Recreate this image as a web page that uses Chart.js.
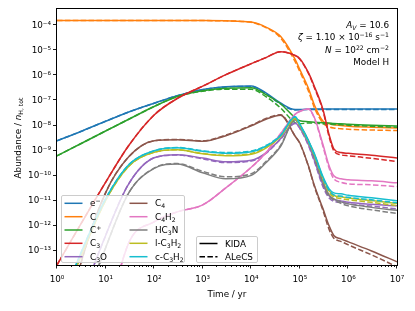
<!DOCTYPE html>
<html><head><meta charset="utf-8">
<script src="https://cdn.jsdelivr.net/npm/chart.js@4.4.1/dist/chart.umd.min.js"></script>
<style>
html,body{margin:0;padding:0;background:#fff;}
#wrap{position:relative;width:415px;height:311px;overflow:hidden;font-family:"DejaVu Sans",sans-serif;font-size:8.8px;color:#000;}
#c{position:absolute;left:0;top:0;}
.t{position:absolute;white-space:nowrap;line-height:12px;height:12px;}
.t sub{font-size:70%;vertical-align:-0.3em;line-height:0;}
.t sup{font-size:70%;vertical-align:0.55em;line-height:0;}
.leg{position:absolute;background:rgba(255,255,255,0.8);border:1px solid #cccccc;border-radius:2px;box-sizing:border-box;}
#sw{position:absolute;left:0;top:0;}
</style></head>
<body>
<div id="wrap">
<canvas id="c" width="415" height="311"></canvas>
<div class="leg" style="left:61px;top:195px;width:124px;height:68px;"></div>
<div class="leg" style="left:196px;top:236px;width:62px;height:27px;"></div>
<svg id="sw" width="415" height="311"></svg>
<div id="txt"></div>
</div>
<script>
// ---- data (log10 of abundance / n_H,tot) ----
const times = [1,3,10,30,100,300,1e3,3e3,1e4,2e4,4e4,8e4,1e5,1.5e5,2e5,3e5,4e5,5e5,7e5,1e6,3e6,1e7];

const eKida    = [-8.61,-8.25,-7.83,-7.46,-7.11,-6.81,-6.56,-6.45,-6.42,-6.70,-7.10,-7.36,-7.36,-7.35,-7.34,-7.34,-7.34,-7.34,-7.34,-7.34,-7.34,-7.34];
const eAlecs   = [-8.61,-8.25,-7.83,-7.46,-7.11,-6.81,-6.57,-6.46,-6.44,-6.73,-7.14,-7.38,-7.37,-7.36,-7.36,-7.36,-7.36,-7.36,-7.36,-7.36,-7.36,-7.36];
const cKida    = [-3.81,-3.81,-3.81,-3.81,-3.81,-3.81,-3.81,-3.82,-3.87,-4.07,-4.44,-5.36,-5.77,-6.51,-7.19,-7.83,-7.93,-7.97,-8.00,-8.03,-8.07,-8.10];
const cAlecs   = [-3.81,-3.81,-3.81,-3.81,-3.81,-3.81,-3.81,-3.82,-3.88,-4.09,-4.50,-5.45,-5.85,-6.62,-7.30,-7.90,-8.05,-8.10,-8.13,-8.15,-8.18,-8.20];
const cpKida   = [-9.21,-8.74,-8.22,-7.75,-7.24,-6.84,-6.61,-6.51,-6.49,-6.77,-7.13,-7.69,-7.81,-7.85,-7.87,-7.89,-7.90,-7.92,-7.93,-7.95,-7.99,-8.02];
const cpAlecs  = [-9.21,-8.74,-8.22,-7.75,-7.24,-6.84,-6.63,-6.55,-6.55,-6.85,-7.30,-7.89,-7.93,-7.90,-7.91,-7.93,-7.95,-7.96,-7.97,-7.99,-8.03,-8.07];
const c3Kida   = [-13.57,-11.98,-10.27,-8.80,-7.58,-6.92,-6.43,-5.97,-5.53,-5.29,-5.05,-5.20,-5.33,-5.89,-6.45,-7.37,-8.37,-8.93,-9.08,-9.11,-9.19,-9.30];
const c3Alecs  = [-13.57,-11.98,-10.27,-8.80,-7.58,-6.92,-6.43,-5.97,-5.53,-5.29,-5.05,-5.21,-5.35,-5.92,-6.50,-7.42,-8.45,-9.01,-9.17,-9.21,-9.31,-9.44];
const c3oKida  = [-19.0,-15.2,-12.40,-10.33,-9.29,-9.17,-9.30,-9.45,-9.39,-9.09,-8.53,-7.90,-8.10,-8.75,-9.40,-10.37,-10.81,-10.95,-11.01,-11.07,-11.15,-11.21];
const c3oAlecs = [-19.0,-15.2,-12.40,-10.33,-9.29,-9.18,-9.33,-9.48,-9.42,-9.11,-8.55,-7.92,-8.12,-8.80,-9.45,-10.45,-10.90,-11.03,-11.07,-11.13,-11.22,-11.33];
const c4Kida   = [-17.5,-13.6,-10.69,-9.25,-8.61,-8.57,-8.63,-8.41,-8.01,-7.75,-7.59,-8.43,-8.70,-9.61,-10.41,-11.33,-12.01,-12.39,-12.53,-12.65,-13.01,-13.44];
const c4Alecs  = [-17.5,-13.6,-10.69,-9.25,-8.61,-8.56,-8.61,-8.38,-7.99,-7.72,-7.57,-8.43,-8.72,-9.63,-10.45,-11.40,-12.15,-12.50,-12.63,-12.77,-13.17,-13.64];
const c4h2Kida = [-26.0,-21.0,-16.1,-12.69,-11.85,-11.45,-11.17,-10.49,-9.67,-9.09,-8.33,-7.55,-7.43,-7.33,-7.69,-8.77,-9.61,-10.01,-10.13,-10.17,-10.21,-10.29];
const c4h2Alecs= [-26.0,-21.0,-16.1,-12.69,-11.85,-11.45,-11.17,-10.49,-9.67,-9.09,-8.33,-7.55,-7.44,-7.35,-7.72,-8.85,-9.70,-10.13,-10.27,-10.33,-10.37,-10.44];
const hc3nKida = [-19.0,-15.7,-12.89,-10.69,-9.71,-9.54,-9.89,-10.13,-9.99,-9.49,-8.84,-7.77,-8.00,-8.60,-9.25,-10.25,-10.77,-10.93,-11.05,-11.13,-11.27,-11.39];
const hc3nAlecs= [-19.0,-15.7,-12.89,-10.69,-9.70,-9.52,-9.83,-10.05,-9.93,-9.44,-8.80,-7.76,-8.02,-8.63,-9.30,-10.32,-10.84,-10.97,-11.11,-11.21,-11.37,-11.51];
const lc3h2Kida= [-15.6,-13.3,-11.00,-9.63,-9.07,-8.97,-9.13,-9.21,-9.15,-8.90,-8.45,-7.72,-7.99,-8.63,-9.17,-10.10,-10.60,-10.79,-10.85,-10.90,-11.00,-11.12];
const lc3h2Alecs=[-15.6,-13.3,-11.00,-9.63,-9.07,-8.97,-9.12,-9.19,-9.12,-8.87,-8.43,-7.71,-8.01,-8.67,-9.22,-10.17,-10.67,-10.85,-10.92,-10.97,-11.07,-11.20];
const cc3h2Kida= [-15.5,-13.16,-10.93,-9.57,-9.01,-8.89,-9.03,-9.11,-9.05,-8.83,-8.41,-7.66,-7.95,-8.60,-9.13,-10.05,-10.53,-10.69,-10.73,-10.79,-10.89,-11.01];
const cc3h2Alecs=[-15.5,-13.16,-10.93,-9.57,-9.01,-8.88,-9.01,-9.08,-9.02,-8.80,-8.39,-7.65,-7.97,-8.64,-9.18,-10.12,-10.60,-10.77,-10.82,-10.87,-10.97,-11.09];

const speciesLabels = ['e<sup>−</sup>','C','C<sup>+</sup>','C<sub>3</sub>','C<sub>3</sub>O','C<sub>4</sub>','C<sub>4</sub>H<sub>2</sub>','HC<sub>3</sub>N','l-C<sub>3</sub>H<sub>2</sub>','c-C<sub>3</sub>H<sub>2</sub>'];
const speciesColors = ['#1f77b4','#ff7f0e','#2ca02c','#d62728','#9467bd','#8c564b','#e377c2','#7f7f7f','#bcbd22','#17becf'];
const kidaSeries  = [eKida,cKida,cpKida,c3Kida,c3oKida,c4Kida,c4h2Kida,hc3nKida,lc3h2Kida,cc3h2Kida];
const alecsSeries = [eAlecs,cAlecs,cpAlecs,c3Alecs,c3oAlecs,c4Alecs,c4h2Alecs,hc3nAlecs,lc3h2Alecs,cc3h2Alecs];
const networkLabels = ['KIDA','ALeCS'];

const xTickExps = [0,1,2,3,4,5,6,7];
const yTickExps = [-13,-12,-11,-10,-9,-8,-7,-6,-5,-4];
const yMin = 2.68e-14, yMax = 4.5e-4;

// ---- build datasets ----
const DASH = [5.5, 2.4];
const datasets = [];
let k = 0;
kidaSeries.forEach((ser, i) => {
  [[ser, []], [alecsSeries[i], DASH]].forEach(([vals, dash]) => {
    datasets.push({
      data: times.map((t, j) => ({x: t, y: Math.pow(10, vals[j])})),
      borderColor: speciesColors[i],
      borderWidth: 1.5,
      borderDash: dash,
      pointRadius: 0,
      fill: false,
      cubicInterpolationMode: 'monotone',
      order: 100 - (k++)
    });
  });
});

const supMap = {'0':'⁰','1':'¹','2':'²','3':'³','4':'⁴','5':'⁵','6':'⁶','7':'⁷','8':'⁸','9':'⁹','-':'⁻'};
function powLabel(v){
  const e = Math.round(Math.log10(v));
  return '10' + String(e).split('').map(c => supMap[c]).join('');
}
function isMajor(v){ const l = Math.log10(v); return Math.abs(l - Math.round(l)) < 1e-9; }

const xTickValues = [];
xTickExps.forEach(e => {
  xTickValues.push(Math.pow(10, e));
  if (e < 7) for (let m = 2; m <= 9; m++) xTickValues.push(m * Math.pow(10, e));
});

const frame = {
  id: 'frame',
  afterDraw(chart) {
    const {ctx, chartArea: a, scales: {x, y}} = chart;
    ctx.save();
    ctx.strokeStyle = '#000';
    ctx.lineWidth = 1;
    ctx.strokeRect(a.left - 0.5, a.top - 0.5, a.right - a.left + 1, a.bottom - a.top + 1);
    ctx.lineWidth = 0.9;
    ctx.beginPath();
    xTickValues.forEach(v => {
      const px = Math.round(x.getPixelForValue(v)) - 0.5;
      const len = isMajor(v) ? 3.5 : 2;
      ctx.moveTo(px, a.bottom); ctx.lineTo(px, a.bottom + len);
    });
    yTickExps.forEach(e => {
      const py = Math.round(y.getPixelForValue(Math.pow(10, e))) - 0.5;
      ctx.moveTo(a.left - 0.5, py); ctx.lineTo(a.left - 4, py);
    });
    ctx.stroke();
    ctx.restore();
  }
};

const FONT = {family: 'DejaVu Sans', size: 8.8};
new Chart(document.getElementById('c'), {
  type: 'line',
  data: {datasets},
  options: {
    responsive: false,
    animation: false,
    devicePixelRatio: 1,
    layout: {padding: {left: 0, right: 18, top: 9, bottom: 0}},
    plugins: {legend: {display: false}, tooltip: {enabled: false}},
    scales: {
      x: {
        type: 'logarithmic', min: 1, max: 1e7,
        grid: {display: false, drawTicks: true, tickLength: 4},
        border: {display: false},
        afterBuildTicks: s => { s.ticks = xTickValues.map(v => ({value: v})); },
        afterFit: s => { s.height = 46; },
        ticks: {
          autoSkip: false, maxRotation: 0, padding: 5, color: '#000', font: FONT,
          callback: v => isMajor(v) ? powLabel(v) : ''
        }
      },
      y: {
        type: 'logarithmic', min: yMin, max: yMax,
        grid: {display: false, drawTicks: true, tickLength: 4},
        border: {display: false},
        afterBuildTicks: s => { s.ticks = yTickExps.map(e => ({value: Math.pow(10, e)})); },
        afterFit: s => { s.width = 57; },
        ticks: {autoSkip: false, padding: 2, color: '#000', font: FONT, callback: v => powLabel(v)}
      }
    }
  },
  plugins: [frame]
});

// ---- text overlays & legends ----
const txt = document.getElementById('txt');
function addText(html, left, cy, extra) {
  const d = document.createElement('div');
  d.className = 't';
  d.innerHTML = html;
  d.style.left = left + 'px';
  d.style.top = (cy - 6) + 'px';
  if (extra) Object.assign(d.style, extra);
  txt.appendChild(d);
  return d;
}
// axis titles
addText('Time / yr', 127, 294, {width: '200px', textAlign: 'center'});
addText('Abundance / <i>n</i><sub>H, tot</sub>', -82, 138, {width: '200px', textAlign: 'center', transform: 'rotate(-90deg)'});
// annotation (right aligned)
const annot = ['<i>A<sub>V</sub></i> = 10.6',
  '<i>ζ</i> = 1.10 × 10<sup>−16</sup> s<sup>−1</sup>',
  '<i>N</i> = 10<sup>22</sup> cm<sup>−2</sup>',
  'Model H'];
const annotY = [25, 37, 49.5, 62];
annot.forEach((h, i) => addText(h, 0, annotY[i], {left: 'auto', right: '26px', textAlign: 'right'}));

// legends
const svg = document.getElementById('sw');
function swatch(x1, x2, y, color, dash) {
  const l = document.createElementNS('http://www.w3.org/2000/svg', 'line');
  l.setAttribute('x1', x1); l.setAttribute('x2', x2);
  l.setAttribute('y1', y); l.setAttribute('y2', y);
  l.setAttribute('stroke', color); l.setAttribute('stroke-width', 1.5);
  if (dash) l.setAttribute('stroke-dasharray', dash.join(' '));
  svg.appendChild(l);
}
const rowY = [203.3, 216.7, 230, 243.3, 256.7];
speciesLabels.forEach((lab, i) => {
  const col = Math.floor(i / 5), r = i % 5;
  const x0 = col === 0 ? 64.5 : 129.5;
  swatch(x0, x0 + 18, rowY[r], speciesColors[i]);
  addText(lab, x0 + 25.5, rowY[r]);
});
const netY = [243.5, 256.8];
networkLabels.forEach((lab, i) => {
  swatch(199.5, 217.5, netY[i], '#000', i === 1 ? DASH : null);
  addText(lab, 225, netY[i]);
});
</script>
</body></html>
